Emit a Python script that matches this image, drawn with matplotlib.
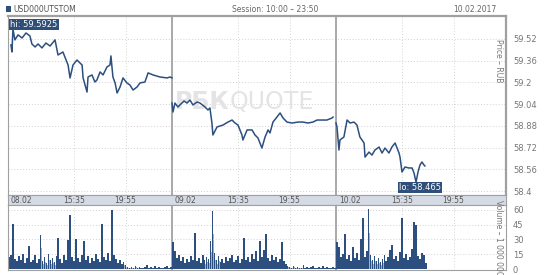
import numpy as np
import matplotlib.pyplot as plt
from matplotlib.patches import Rectangle

# minutes from session start (10:00) and price, one list per day
t_day1 = [15, 20, 25, 35, 51, 71, 91, 111, 121, 137, 152, 172, 192, 213, 238, 253, 278, 304, 314,
          329, 349, 375, 380, 400, 405, 425, 440, 450, 466, 481, 501, 516, 521, 531, 542, 552, 567,
          582, 602, 617, 633, 653, 668, 693, 709, 734, 769, 805, 820, 830]
p_day1 = [59.476, 59.424, 59.5925, 59.513, 59.55, 59.527, 59.564, 59.542, 59.483, 59.461, 59.483,
          59.454, 59.49, 59.468, 59.513, 59.402, 59.424, 59.328, 59.233, 59.328, 59.365, 59.328,
          59.233, 59.129, 59.24, 59.255, 59.203, 59.218, 59.277, 59.255, 59.314, 59.328, 59.395,
          59.24, 59.196, 59.122, 59.166, 59.233, 59.196, 59.181, 59.144, 59.166, 59.196, 59.203,
          59.27, 59.255, 59.24, 59.233, 59.24, 59.233]
t_day2 = [0, 5, 15, 30, 40, 61, 76, 91, 106, 127, 142, 167, 182, 192, 202, 207, 228, 258, 283, 304,
          319, 334, 354, 359, 380, 405, 420, 435, 455, 471, 486, 496, 511, 531, 547, 562, 582, 607,
          638, 663, 688, 713, 734, 759, 784, 810, 815]
p_day2 = [59.048, 58.982, 59.048, 59.019, 59.034, 59.063, 59.048, 59.07, 59.034, 59.056, 59.048,
          59.019, 58.997, 59.012, 58.901, 58.813, 58.872, 58.886, 58.908, 58.923, 58.901, 58.886,
          58.813, 58.776, 58.85, 58.85, 58.813, 58.791, 58.717, 58.798, 58.85, 58.828, 58.908,
          58.945, 58.975, 58.938, 58.908, 58.901, 58.908, 58.908, 58.901, 58.908, 58.923, 58.923,
          58.923, 58.938, 58.945]
t_day3 = [0, 5, 15, 20, 40, 56, 71, 91, 106, 121, 142, 147, 167, 182, 197, 218, 233, 248, 268, 283,
          299, 319, 324, 334, 349, 369, 385, 395, 405, 415, 425, 435, 445, 450]
p_day3 = [58.901, 58.872, 58.702, 58.776, 58.798, 58.923, 58.901, 58.908, 58.886, 58.798, 58.754,
          58.65, 58.687, 58.665, 58.702, 58.724, 58.68, 58.717, 58.68, 58.724, 58.754, 58.68, 58.65,
          58.54, 58.577, 58.57, 58.57, 58.533, 58.465, 58.54, 58.592, 58.614, 58.592, 58.585]

# volume, 10-minute bins from 10:00, in millions
vol_day1 = [12, 14, 46, 10, 8, 13, 9, 15, 6, 11, 23, 7, 9, 14, 6, 10, 35, 8, 12, 6, 15, 9, 11, 7,
            13, 31, 10, 6, 14, 9, 29, 55, 12, 8, 30, 11, 7, 14, 28, 9, 13, 6, 11, 8, 15, 10, 7, 46,
            12, 9, 16, 8, 60, 14, 10, 6, 9, 5, 7, 4,
            2, 1, 2, 1, 3, 1, 2, 1, 1, 2, 4, 1, 2, 1, 3, 1, 2, 1, 1, 2, 3, 1, 2]
vol_day2 = [27, 18, 11, 14, 8, 12, 6, 10, 7, 13, 9, 37, 8, 11, 6, 14, 9, 12, 10, 28, 59, 16, 9, 13,
            7, 10, 6, 12, 8, 11, 14, 7, 9, 13, 6, 10, 31, 9, 12, 7, 15, 10, 18, 8, 28, 12, 19, 36,
            11, 8, 14, 9, 12, 7, 10, 27, 8, 5, 3,
            2, 1, 3, 1, 2, 1, 1, 4, 1, 2, 1, 2, 3, 1, 1, 2, 1, 3, 1, 2, 1, 1, 2, 1]
vol_day3 = [27, 22, 12, 15, 36, 10, 14, 8, 22, 11, 16, 9, 30, 52, 12, 18, 61, 14, 9, 13, 8, 11, 7,
            10, 14, 8, 12, 19, 24, 10, 13, 8, 17, 52, 11, 15, 9, 12, 20, 48, 45, 13, 10, 16, 14, 6]

day_labels = ['08.02', '09.02', '10.02']
time_ticks = [335, 595]
time_labels = ['15:35', '19:55']
price_ticks = [58.4, 58.56, 58.72, 58.88, 59.04, 59.2, 59.36, 59.52]
price_labels = ['58.4', '58.56', '58.72', '58.88', '59.04', '59.2', '59.36', '59.52']
vol_ticks = [0, 15, 30, 45, 60]

SESSION = 830
NAVY = '#2d4f7f'
GREY = '#777777'
GRID = '#d9cdd9'

fig = plt.figure(figsize=(5.48, 2.75), dpi=100)
W, H = 548, 275

def box(l, t, r, b):
    return [l / W, 1 - b / H, (r - l) / W, (b - t) / H]

ax = fig.add_axes(box(8, 16, 506, 195))
strip = fig.add_axes(box(8, 195, 506, 205))
axv = fig.add_axes(box(8, 205, 506, 270))

xmax = (506 - 8) / (164 / SESSION)
for a in (ax, strip, axv):
    a.set_xlim(0, xmax)
    a.set_xticks([])
    for s in a.spines.values():
        s.set_color('#a0a0a0')
        s.set_linewidth(0.8)

ax.spines['top'].set_linewidth(1.6)
ax.spines['right'].set_linewidth(1.6)

# price lines
for d, (t, p) in enumerate([(t_day1, p_day1), (t_day2, p_day2), (t_day3, p_day3)]):
    ax.plot(np.array(t) + d * SESSION, p, color=NAVY, lw=1.1)

ax.set_ylim(58.371, 59.689)
ax.yaxis.tick_right()
ax.set_yticks(price_ticks)
ax.set_yticklabels(price_labels)
ax.tick_params(axis='y', length=0, pad=5, labelsize=6, labelcolor=GREY)
for y in price_ticks:
    ax.axhline(y, color=GRID, lw=0.7, ls=(0, (1, 2)), zorder=0)

# volume bars
vx, vy = [], []
for d, v in enumerate([vol_day1, vol_day2, vol_day3]):
    for k, val in enumerate(v):
        vx.append(d * SESSION + 10 * k + 5)
        vy.append(val)
axv.bar(vx, vy, width=9, color=NAVY, linewidth=0)
axv.bar(np.array(vx) + 4, np.array(vy) * 0.6, width=3, color='#9fb0c8', linewidth=0, zorder=0)
axv.set_ylim(-1, 65)
axv.yaxis.tick_right()
axv.set_yticks(vol_ticks)
axv.tick_params(axis='y', length=0, pad=5, labelsize=6, labelcolor=GREY)
for y in vol_ticks[1:]:
    axv.axhline(y, color=GRID, lw=0.7, ls=(0, (1, 2)), zorder=0)

# vertical grid and session separators
for a in (ax, axv):
    for d in range(3):
        if d > 0:
            a.axvline(d * SESSION, color='#a8a8a8', lw=1.4, zorder=0.5)
        for tt in time_ticks:
            a.axvline(d * SESSION + tt, color='#cfd8cf', lw=0.7, ls=(0, (1, 2)), zorder=0)

# time strip
strip.set_facecolor('#d5dbe5')
strip.set_yticks([])
strip.set_ylim(0, 1)
for d in range(3):
    strip.text(d * SESSION + 15, 0.45, day_labels[d], fontsize=5.5, color='#555555',
               ha='left', va='center')
    for tt, lab in zip(time_ticks, time_labels):
        strip.text(d * SESSION + tt, 0.45, lab, fontsize=5.5, color='#555555',
                   ha='center', va='center')

# axis captions inside the panels
ax.text(0.985, 0.75, 'Price – RUB', transform=ax.transAxes, rotation=270, fontsize=5.5,
        color=GREY, ha='center', va='center')
axv.text(0.985, 0.5, 'Volume – 1 000 000', transform=axv.transAxes, rotation=270, fontsize=5.5,
         color=GREY, ha='center', va='center')

# watermark
ax.text(0.445, 0.52, 'РБК', transform=ax.transAxes, fontsize=17, fontweight='bold',
        color='#e4e4e4', ha='right', va='center', zorder=0)
ax.text(0.445, 0.52, 'QUOTE', transform=ax.transAxes, fontsize=17, color='#e4e4e4',
        ha='left', va='center', zorder=0)

# hi / lo labels
hi = max(p_day1 + p_day2 + p_day3)
lo = min(p_day1 + p_day2 + p_day3)
ax.text(12, 59.625, 'hi: %s' % hi, fontsize=6, color='white', ha='left', va='center',
        bbox=dict(boxstyle='square,pad=0.15', fc='#2f4f78', ec='none'))
ax.text(2 * SESSION + 318, 58.425, 'lo: %s' % lo, fontsize=6, color='white', ha='left',
        va='center', bbox=dict(boxstyle='square,pad=0.15', fc='#2f4f78', ec='none'))

# header
fig.add_artist(Rectangle((6 / W, 1 - 12 / H), 5 / W, 6 / H, transform=fig.transFigure,
                         fc='#2f4f78', ec='none'))
fig.text(13 / W, 1 - 9 / H, 'USD000UTSTOM', fontsize=5.5, color='#555555', ha='left', va='center')
fig.text(275 / W, 1 - 9 / H, 'Session: 10:00 – 23:50', fontsize=5.5, color='#666666',
         ha='center', va='center')
fig.text(496 / W, 1 - 9 / H, '10.02.2017', fontsize=5.5, color='#666666', ha='right', va='center')

plt.savefig('out.png', dpi=100)
